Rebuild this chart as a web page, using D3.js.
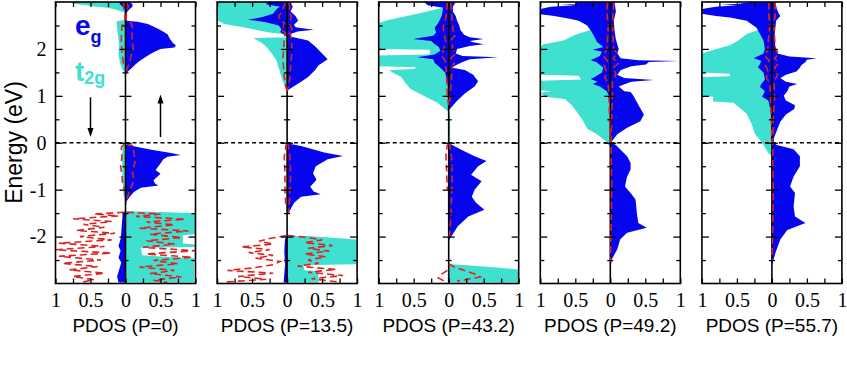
<!DOCTYPE html>
<html><head><meta charset="utf-8">
<script src="https://cdn.jsdelivr.net/npm/d3@7"></script>
<style>body{margin:0;background:#fff}svg{display:block}</style>
</head><body><svg id="c" width="847" height="392"></svg>
<script>
// ---------- labels ----------
const pressures = ["0","13.5","43.2","49.2","55.7"];
const xTickValues = [-1,-0.5,0,0.5,1];
const xTickLabels = ["1","0.5","0","0.5","1"];
const yTickValues = [-2,-1,0,1,2];
const yTickLabels = ["-2","-1","0","1","2"];

// ---------- data: [energy (eV), PDOS]  (negative = spin down) ----------
// P = 0
const p0_t2gDn = [[3.0,-0.76],[2.96,-0.72],[2.93,-0.56],[2.9,-0.4],[2.88,-0.26],[2.84,-0.14],[2.8,-0.06],[2.77,0],[2.62,0],[2.59,-0.13],[2.45,-0.12],[2.3,-0.11],[2.1,-0.09],[1.9,-0.1],[1.7,-0.08],[1.55,-0.04],[1.48,0],[0,0],[-0.03,-0.04],[-0.4,-0.05],[-0.8,-0.04],[-1.1,-0.03],[-1.25,0]];
const p0_t2gUp = [[2.62,0],[2.58,0.04],[1.6,0.05],[1.5,0],[-0.02,0],[-0.05,0.08],[-0.5,0.1],[-1.0,0.08],[-1.2,0.02],[-1.46,0],[-1.48,0.6],[-1.5,1.0],[-1.95,1.0],[-1.97,0.82],[-2.15,0.82],[-2.17,1.0],[-2.22,1.0],[-2.24,0.22],[-2.4,0.24],[-2.42,0.45],[-2.46,0.98],[-2.98,0.98]];
const p0_egUp = [[3.0,0.05],[2.96,0.1],[2.9,0.1],[2.85,0.06],[2.78,0.02],[2.7,0.01],[2.6,0.02],[2.58,0.17],[2.53,0.32],[2.42,0.48],[2.31,0.6],[2.2,0.64],[2.12,0.68],[2.08,0.72],[2.03,0.7],[2.0,0.5],[1.93,0.4],[1.86,0.32],[1.72,0.18],[1.61,0.1],[1.5,0.02],[1.46,0],[0,0],[-0.04,0],[-0.07,0.1],[-0.15,0.37],[-0.22,0.65],[-0.26,0.79],[-0.3,0.6],[-0.35,0.54],[-0.44,0.5],[-0.58,0.43],[-0.66,0.5],[-0.8,0.4],[-0.87,0.42],[-0.91,0.47],[-0.96,0.22],[-1.05,0.12],[-1.15,0.06],[-1.26,0.01],[-1.3,0]];
const p0_egDn = [[3.0,-0.09],[2.95,-0.08],[2.9,-0.04],[2.85,0],[-1.45,0],[-1.5,-0.04],[-1.7,-0.05],[-1.9,-0.06],[-2.05,-0.07],[-2.2,-0.1],[-2.3,-0.07],[-2.45,-0.1],[-2.55,-0.06],[-2.7,-0.09],[-2.85,-0.12],[-2.98,-0.1]];
const p0_redUp = [[2.98,0.02],[2.9,0.04],[2.8,0.02],[2.7,0.01],[2.62,0.01],[2.56,0.08],[2.45,0.1],[2.3,0.09],[2.15,0.1],[2.0,0.11],[1.85,0.08],[1.7,0.06],[1.58,0.02],[1.5,0.01],[1.4,null],[-0.02,0.01],[-0.06,0.1],[-0.2,0.12],[-0.4,0.14],[-0.6,0.1],[-0.8,0.12],[-0.95,0.08],[-1.1,0.04],[-1.25,0.01],[-1.4,null],
 [-1.48,0.02],[-1.52,0.5],[-1.57,0.15],[-1.63,0.85],[-1.69,0.3],[-1.75,0.7],[-1.82,0.2],[-1.88,0.9],[-1.95,0.35],[-2.02,0.8],[-2.09,0.3],[-2.16,0.7],[-2.23,0.25],[-2.3,1.0],[-2.37,0.3],[-2.44,0.95],[-2.51,0.4],[-2.58,0.75],[-2.65,0.2],[-2.72,0.7],[-2.79,0.35],[-2.86,0.8],[-2.93,0.4],[-2.98,0.6]];
const p0_redDn = [[2.98,-0.02],[2.9,-0.03],[2.8,-0.01],[2.6,-0.01],[2.5,-0.05],[2.2,-0.06],[1.9,-0.05],[1.6,-0.02],[1.5,null],[-0.03,-0.02],[-0.1,-0.06],[-0.3,-0.05],[-0.5,-0.07],[-0.7,-0.05],[-0.9,-0.04],[-1.0,-0.01],[-1.2,null],
 [-1.48,-0.02],[-1.52,-0.45],[-1.56,-0.1],[-1.62,-0.75],[-1.68,-0.2],[-1.74,-0.6],[-1.8,-0.3],[-1.87,-0.7],[-1.93,-0.15],[-2.0,-0.65],[-2.07,-0.2],[-2.14,-0.95],[-2.21,-0.3],[-2.28,-1.0],[-2.35,-0.2],[-2.42,-0.95],[-2.5,-0.35],[-2.57,-0.9],[-2.64,-0.4],[-2.71,-0.8],[-2.78,-0.3],[-2.85,-0.75],[-2.92,-0.45],[-2.98,-0.65]];

// P = 13.5
const p13_t2gDn = [[3.0,-0.99],[2.6,-0.99],[2.53,-0.9],[2.46,-0.63],[2.4,-0.42],[2.35,-0.25],[2.32,-0.06],[2.3,0],[2.25,0],[2.23,-0.48],[2.15,-0.38],[2.05,-0.3],[1.9,-0.22],[1.75,-0.15],[1.5,-0.1],[1.3,-0.06],[1.15,-0.02],[1.1,0]];
const p13_t2gUp = [[2.25,0],[2.2,0.04],[1.3,0.04],[1.15,0],[-1.98,0],[-1.99,0.3],[-2.03,0.7],[-2.06,0.99],[-2.59,0.99],[-2.61,0.23],[-2.72,0.25],[-2.74,0.45],[-2.98,0.45]];
const p13_egUp = [[3.0,0.05],[2.9,0.08],[2.8,0.05],[2.7,0.12],[2.6,0.16],[2.52,0.1],[2.46,0.12],[2.41,0.38],[2.37,0.15],[2.32,0.05],[2.26,0.06],[2.18,0.3],[2.04,0.41],[1.9,0.5],[1.78,0.58],[1.72,0.52],[1.65,0.45],[1.55,0.4],[1.4,0.3],[1.3,0.2],[1.19,0.08],[1.12,0.01],[1.1,0],[0,0],[-0.02,0.03],[-0.07,0.2],[-0.21,0.53],[-0.28,0.8],[-0.35,0.58],[-0.5,0.41],[-0.65,0.37],[-0.79,0.42],[-0.94,0.33],[-1.04,0.38],[-1.1,0.48],[-1.15,0.2],[-1.28,0.1],[-1.5,0.02],[-1.55,0]];
const p13_egDn = [[3.0,-0.28],[2.95,-0.3],[2.9,-0.1],[2.85,-0.15],[2.75,-0.2],[2.68,-0.35],[2.62,-0.56],[2.57,-0.3],[2.5,-0.12],[2.42,-0.08],[2.36,-0.1],[2.3,-0.04],[2.25,0],[-1.98,0],[-2.05,-0.03],[-2.3,-0.04],[-2.6,-0.03],[-2.98,-0.05]];
const p13_redUp = [[2.98,0.02],[2.9,0.04],[2.8,0.03],[2.7,0.06],[2.6,0.05],[2.5,0.04],[2.42,0.07],[2.38,0.02],[2.3,0.05],[2.2,0.06],[2.0,0.07],[1.8,0.06],[1.6,0.05],[1.4,0.04],[1.2,0.02],[1.1,0],[1.0,null],[0,0.01],[-0.3,0.04],[-0.7,0.05],[-1.1,0.04],[-1.5,0.02],[-1.7,null],
 [-1.98,0.01],[-2.02,0.3],[-2.07,0.5],[-2.13,0.25],[-2.19,0.65],[-2.25,0.3],[-2.31,0.6],[-2.37,0.25],[-2.43,0.55],[-2.5,0.3],[-2.57,0.45],[-2.63,0.15],[-2.7,0.7],[-2.76,0.3],[-2.83,0.8],[-2.9,0.35],[-2.97,0.75]];
const p13_redDn = [[2.98,-0.02],[2.9,-0.05],[2.78,-0.08],[2.7,-0.12],[2.62,-0.1],[2.55,-0.04],[2.45,-0.06],[2.4,-0.08],[2.35,-0.03],[2.2,-0.04],[2.0,-0.05],[1.8,-0.06],[1.6,-0.05],[1.4,-0.04],[1.2,-0.02],[1.1,0],[1.0,null],[0,-0.01],[-0.3,-0.04],[-0.7,-0.03],[-1.1,-0.03],[-1.4,-0.01],[-1.7,null],
 [-1.98,-0.01],[-2.04,-0.25],[-2.1,-0.4],[-2.16,-0.2],[-2.22,-0.65],[-2.28,-0.25],[-2.34,-0.55],[-2.4,-0.2],[-2.46,-0.45],[-2.53,-0.1],[-2.6,-0.2],[-2.67,-0.5],[-2.72,-0.85],[-2.78,-0.2],[-2.85,-0.7],[-2.91,-0.3],[-2.97,-0.9]];

// P = 43.2
const p43_t2gDn = [[2.88,0],[2.87,-0.1],[2.75,-0.45],[2.62,-0.85],[2.55,-1.0],[2.0,-1.0],[1.98,-0.27],[1.88,-0.27],[1.86,-1.0],[1.63,-1.0],[1.61,-0.46],[1.57,-0.5],[1.55,-0.85],[1.5,-0.8],[1.4,-0.68],[1.3,-0.63],[1.15,-0.55],[1.0,-0.36],[0.85,-0.16],[0.72,-0.05],[0.65,0]];
const p43_t2gUp = [[0.7,0],[0.6,0.02],[-1.0,0.02],[-1.2,0],[-2.57,0],[-2.59,0.05],[-2.65,0.6],[-2.7,0.99],[-2.98,0.99]];
const p43_egUp = [[3.0,0.1],[2.9,0.06],[2.8,0.06],[2.7,0.1],[2.6,0.12],[2.5,0.15],[2.4,0.17],[2.3,0.22],[2.25,0.3],[2.21,0.5],[2.17,0.3],[2.14,0.35],[2.1,0.5],[2.06,0.3],[2.0,0.12],[1.9,0.1],[1.85,0.2],[1.82,0.71],[1.78,0.3],[1.72,0.2],[1.65,0.1],[1.6,0.05],[1.55,0.23],[1.45,0.35],[1.31,0.42],[1.2,0.37],[1.05,0.23],[0.88,0.11],[0.74,0.03],[0.7,0],[0,0],[-0.02,0.02],[-0.05,0.05],[-0.15,0.18],[-0.29,0.37],[-0.39,0.54],[-0.5,0.42],[-0.68,0.32],[-0.82,0.47],[-1.0,0.37],[-1.15,0.33],[-1.28,0.39],[-1.43,0.51],[-1.57,0.28],[-1.78,0.13],[-2.06,0.01],[-2.1,0]];
const p43_egDn = [[3.0,-0.35],[2.93,-0.3],[2.88,-0.08],[2.7,-0.1],[2.55,-0.15],[2.45,-0.2],[2.35,-0.18],[2.28,-0.22],[2.21,-0.51],[2.17,-0.25],[2.1,-0.2],[2.04,-0.14],[1.96,-0.12],[1.88,-0.2],[1.82,-0.45],[1.78,-0.22],[1.7,-0.2],[1.6,-0.12],[1.5,-0.05],[1.3,-0.02],[1.0,0]];
const p43_redUp = [[2.98,0.03],[2.8,0.04],[2.6,0.05],[2.4,0.06],[2.3,0.1],[2.2,0.04],[2.0,0.06],[1.9,0.1],[1.8,0.03],[1.7,0.08],[1.6,0.05],[1.4,0.04],[1.2,0.03],[1.0,0.02],[0.8,0.01],[0.6,null],[0,0.01],[-0.3,0.04],[-0.8,0.05],[-1.2,0.04],[-1.6,0.03],[-2.0,0.01],[-2.2,null],[-2.58,0.0],[-2.65,0.08],[-2.72,0.22],[-2.8,0.38],[-2.86,0.45],[-2.9,0.3],[-2.95,0.12]];
const p43_redDn = [[2.98,-0.02],[2.8,-0.03],[2.6,-0.05],[2.45,-0.08],[2.3,-0.06],[2.15,-0.04],[2.0,-0.07],[1.85,-0.1],[1.75,-0.05],[1.6,-0.04],[1.4,-0.03],[1.0,-0.02],[0.8,0],[0.6,null],[0,-0.01],[-0.2,-0.04],[-0.6,-0.03],[-1.0,-0.02],[-1.2,null],[-2.72,-0.02],[-2.8,-0.1],[-2.88,-0.15],[-2.96,-0.05]];

// P = 49.2
const p49_t2gDn = [[2.45,0],[2.42,-0.25],[2.3,-0.5],[2.18,-0.67],[2.1,-0.95],[2.05,-1.0],[1.45,-1.0],[1.43,-0.45],[1.35,-0.42],[1.32,-1.0],[1.12,-1.0],[1.1,-0.85],[1.06,-1.0],[0.98,-0.92],[0.93,-0.65],[0.8,-0.55],[0.6,-0.45],[0.45,-0.38],[0.3,-0.33],[0.18,-0.19],[0.04,-0.07],[-0.1,0]];
const p49_t2gUp = [[2.0,0],[1.9,0.03],[0.2,0.03],[0,0]];
const p49_egUp = [[3.0,0.06],[2.8,0.08],[2.6,0.05],[2.4,0.06],[2.2,0.08],[2.0,0.12],[1.9,0.1],[1.8,0.15],[1.76,0.4],[1.74,0.98],[1.72,0.55],[1.67,0.51],[1.63,0.3],[1.55,0.15],[1.45,0.1],[1.38,0.2],[1.34,0.62],[1.3,0.3],[1.2,0.12],[1.1,0.2],[1.08,0.29],[1.0,0.33],[0.81,0.4],[0.6,0.48],[0.46,0.43],[0.32,0.24],[0.18,0.1],[0.05,0.03],[0,0.02],[-0.05,0.08],[-0.14,0.14],[-0.29,0.24],[-0.43,0.29],[-0.57,0.29],[-0.72,0.24],[-0.93,0.21],[-1.07,0.29],[-1.21,0.36],[-1.5,0.38],[-1.71,0.4],[-1.81,0.52],[-1.92,0.24],[-2.06,0.14],[-2.27,0.1],[-2.49,0.02],[-2.62,0.01],[-2.7,0]];
const p49_egDn = [[3.0,-0.5],[2.95,-0.5],[2.94,-0.72],[2.93,-0.5],[2.9,-0.85],[2.85,-1.0],[2.74,-1.0],[2.7,-0.8],[2.65,-0.6],[2.6,-0.45],[2.5,-0.33],[2.35,-0.26],[2.15,-0.19],[2.04,-0.1],[1.98,-0.25],[1.94,-0.12],[1.85,-0.15],[1.76,-0.28],[1.72,-0.2],[1.6,-0.1],[1.5,-0.12],[1.4,-0.22],[1.36,-0.28],[1.3,-0.18],[1.25,-0.25],[1.2,-0.15],[1.1,-0.05],[1.0,-0.02],[0.8,0]];
const p49_redUp = [[2.99,0.05],[2.8,0.04],[2.5,0.03],[2.2,0.04],[2.0,0.05],[1.9,0.1],[1.8,0.04],[1.7,0.12],[1.6,0.04],[1.45,0.08],[1.3,0.03],[1.0,0.03],[0.5,0.02],[0,0.01],[-1.0,0.02],[-2.0,0.01],[-2.5,0]];
const p49_redDn = [[2.99,-0.04],[2.8,-0.05],[2.5,-0.03],[2.2,-0.04],[2.0,-0.05],[1.85,-0.1],[1.75,-0.04],[1.65,-0.09],[1.5,-0.05],[1.4,-0.08],[1.25,-0.03],[1.0,-0.02],[0.5,-0.01],[0,0]];

// P = 55.7
const p55_t2gDn = [[2.45,0],[2.42,-0.17],[2.32,-0.36],[2.18,-0.48],[2.08,-0.6],[1.96,-0.88],[1.9,-1.0],[1.5,-1.0],[1.47,-0.6],[1.42,-0.6],[1.4,-1.0],[1.0,-1.0],[0.98,-0.84],[0.88,-0.84],[0.85,-0.55],[0.62,-0.36],[0.4,-0.29],[0.18,-0.24],[0.0,-0.14],[-0.22,-0.05],[-0.29,0]];
const p55_t2gUp = [[2.0,0],[1.9,0.03],[0.2,0.03],[0,0]];
const p55_egUp = [[3.0,0.05],[2.85,0.07],[2.75,0.1],[2.7,0.12],[2.6,0.06],[2.3,0.04],[2.0,0.05],[1.9,0.08],[1.84,0.25],[1.8,0.64],[1.77,0.5],[1.72,0.48],[1.65,0.42],[1.6,0.4],[1.52,0.35],[1.45,0.2],[1.38,0.12],[1.3,0.2],[1.25,0.36],[1.2,0.25],[1.1,0.22],[1.0,0.17],[0.9,0.2],[0.8,0.33],[0.72,0.32],[0.6,0.2],[0.45,0.12],[0.3,0.08],[0.1,0.03],[0,0.03],[-0.05,0.07],[-0.14,0.31],[-0.29,0.4],[-0.5,0.4],[-0.72,0.31],[-0.93,0.26],[-1.07,0.33],[-1.36,0.31],[-1.57,0.33],[-1.71,0.48],[-1.86,0.22],[-2.06,0.12],[-2.35,0.05],[-2.56,0.01],[-2.6,0]];
const p55_egDn = [[3.0,-0.3],[2.96,-0.5],[2.95,-0.74],[2.93,-0.5],[2.9,-0.8],[2.85,-1.0],[2.75,-1.0],[2.7,-0.8],[2.67,-0.6],[2.6,-0.36],[2.45,-0.22],[2.32,-0.17],[2.18,-0.12],[2.0,-0.1],[1.9,-0.12],[1.8,-0.26],[1.75,-0.15],[1.65,-0.18],[1.61,-0.2],[1.5,-0.12],[1.35,-0.1],[1.25,-0.15],[1.19,-0.17],[1.1,-0.1],[0.98,-0.14],[0.9,-0.05],[0.7,-0.02],[0.5,0]];
const p55_redUp = [[2.99,0.04],[2.8,0.05],[2.5,0.03],[2.2,0.04],[2.0,0.05],[1.9,0.1],[1.8,0.04],[1.7,0.1],[1.6,0.04],[1.45,0.08],[1.3,0.03],[1.0,0.04],[0.5,0.02],[0,0.01],[-1.0,0.02],[-2.0,0.01],[-2.5,0]];
const p55_redDn = [[2.99,-0.04],[2.8,-0.05],[2.5,-0.03],[2.2,-0.05],[2.0,-0.06],[1.85,-0.1],[1.75,-0.04],[1.65,-0.09],[1.5,-0.05],[1.4,-0.08],[1.25,-0.03],[1.0,-0.02],[0.5,-0.01],[0,0]];

const t2gUp = [p0_t2gUp,p13_t2gUp,p43_t2gUp,p49_t2gUp,p55_t2gUp];
const t2gDn = [p0_t2gDn,p13_t2gDn,p43_t2gDn,p49_t2gDn,p55_t2gDn];
const egUp  = [p0_egUp,p13_egUp,p43_egUp,p49_egUp,p55_egUp];
const egDn  = [p0_egDn,p13_egDn,p43_egDn,p49_egDn,p55_egDn];
const redUp = [p0_redUp,p13_redUp,p43_redUp,p49_redUp,p55_redUp];
const redDn = [p0_redDn,p13_redDn,p43_redDn,p49_redDn,p55_redDn];

// ---------- drawing ----------
const BLUE = "#0505ee", TURQ = "#40e0d0", RED = "#dd2222";
const svg = d3.select("#c");
const yTop = 2, yBot = 283.5, pw = 140;
const y = d3.scaleLinear().domain([3,-3]).range([yTop,yBot]);
const serif = "'Liberation Serif','Times New Roman',serif";
const sans = "'Liberation Sans',Arial,Helvetica,sans-serif";

pressures.forEach((p,i)=>{
  const left = 55.5 + i*161.6;
  const x = d3.scaleLinear().domain([-1,1]).range([left,left+pw]);
  const g = svg.append("g");
  const cid = "clip"+i;
  svg.append("clipPath").attr("id",cid).append("rect")
    .attr("x",left).attr("y",yTop).attr("width",pw).attr("height",yBot-yTop);
  const body = g.append("g").attr("clip-path",`url(#${cid})`);
  const area = d3.area().y(d=>y(d[0])).x0(x(0)).x1(d=>x(d[1]));
  const line = d3.line().defined(d=>d[1]!==null).y(d=>y(d[0])).x(d=>x(d[1]));
  [t2gDn[i],t2gUp[i]].forEach(s=>body.append("path").datum(s).attr("d",area).attr("fill",TURQ));
  [egDn[i],egUp[i]].forEach(s=>body.append("path").datum(s).attr("d",area).attr("fill",BLUE));
  body.append("line").attr("x1",x(0)).attr("x2",x(0)).attr("y1",yTop).attr("y2",yBot)
    .attr("stroke","#000").attr("stroke-width",1.6);
  [redDn[i],redUp[i]].forEach(s=>body.append("path").datum(s).attr("d",line)
    .attr("fill","none").attr("stroke",RED).attr("stroke-width",1.6).attr("stroke-dasharray","7,4"));
  body.append("line").attr("x1",left).attr("x2",left+pw).attr("y1",y(0)).attr("y2",y(0))
    .attr("stroke","#000").attr("stroke-width",1.3).attr("stroke-dasharray","4,3");

  const xMinor = d3.range(-1,1.001,0.25);
  const fmtX = d=>{const k=xTickValues.findIndex(v=>Math.abs(v-d)<1e-6);return k>=0?xTickLabels[k]:"";};
  const bAx = g.append("g").attr("transform",`translate(0,${yBot})`)
    .call(d3.axisBottom(x).tickValues(xMinor).tickSize(-5).tickPadding(9).tickFormat(fmtX));
  bAx.selectAll("text").attr("font-family",serif).attr("font-size",20).attr("fill","#000");
  g.append("g").attr("transform",`translate(0,${yTop})`)
    .call(d3.axisTop(x).tickValues(xMinor).tickSize(-5).tickFormat(""));
  const yMaj = d3.range(-2,2.001,1), yMin = [-2.5,-1.5,-0.5,0.5,1.5,2.5];
  const fmtY = d=>{const k=yTickValues.findIndex(v=>Math.abs(v-d)<1e-6);return (i===0&&k>=0)?yTickLabels[k]:"";};
  const lAx = g.append("g").attr("transform",`translate(${left},0)`)
    .call(d3.axisLeft(y).tickValues(yMaj).tickSize(-7).tickPadding(9).tickFormat(fmtY));
  lAx.selectAll("text").attr("font-family",serif).attr("font-size",20).attr("fill","#000");
  g.append("g").attr("transform",`translate(${left},0)`).call(d3.axisLeft(y).tickValues(yMin).tickSize(-4).tickFormat(""));
  g.append("g").attr("transform",`translate(${left+pw},0)`).call(d3.axisRight(y).tickValues(yMaj).tickSize(-7).tickFormat(""));
  g.append("g").attr("transform",`translate(${left+pw},0)`).call(d3.axisRight(y).tickValues(yMin).tickSize(-4).tickFormat(""));
  g.append("g").attr("transform",`translate(${x(0)},0)`).call(d3.axisLeft(y).tickValues(yMaj).tickSize(6).tickFormat(""));
  g.append("g").attr("transform",`translate(${x(0)},0)`).call(d3.axisRight(y).tickValues(yMaj).tickSize(6).tickFormat(""));
  g.append("g").attr("transform",`translate(${x(0)},0)`).call(d3.axisLeft(y).tickValues(yMin).tickSize(3).tickFormat(""));
  g.append("g").attr("transform",`translate(${x(0)},0)`).call(d3.axisRight(y).tickValues(yMin).tickSize(3).tickFormat(""));
  g.selectAll(".domain").remove();
  g.selectAll(".tick line").attr("stroke","#000").attr("stroke-width",1.3);
  g.append("rect").attr("x",left).attr("y",yTop).attr("width",pw).attr("height",yBot-yTop)
    .attr("fill","none").attr("stroke","#000").attr("stroke-width",1.6);
  g.append("text").attr("x",x(0)).attr("y",332).attr("text-anchor","middle")
    .attr("font-family",sans).attr("font-size",19).text(`PDOS (P=${p})`);

  if(i===0){
    const arr = (xv,e1,e2)=>{
      const X=x(xv), Y1=y(e1), Y2=y(e2), dir = Y2>Y1?1:-1;
      g.append("line").attr("x1",X).attr("x2",X).attr("y1",Y1).attr("y2",Y2-dir*6).attr("stroke","#000").attr("stroke-width",1.5);
      g.append("path").attr("d",`M${X-3},${Y2-dir*9}L${X},${Y2}L${X+3},${Y2-dir*9}Z`).attr("fill","#000");
    };
    arr(-0.5,0.97,0.12);
    arr(0.5,0.12,1.03);
    const t1 = g.append("text").attr("x",75).attr("y",35).attr("font-family",sans).attr("font-weight","bold").attr("fill",BLUE);
    t1.append("tspan").attr("font-size",28).text("e");
    t1.append("tspan").attr("font-size",18).attr("dy",8).text("g");
    const t2 = g.append("text").attr("x",75).attr("y",81).attr("font-family",sans).attr("font-weight","bold").attr("fill",TURQ);
    t2.append("tspan").attr("font-size",28).text("t");
    t2.append("tspan").attr("font-size",18).attr("dy",3).text("2g");
  }
});
svg.append("text").attr("transform","translate(22,142.5) rotate(-90)").attr("text-anchor","middle")
  .attr("font-family",sans).attr("font-size",23).text("Energy (eV)");
</script>
</body></html>
